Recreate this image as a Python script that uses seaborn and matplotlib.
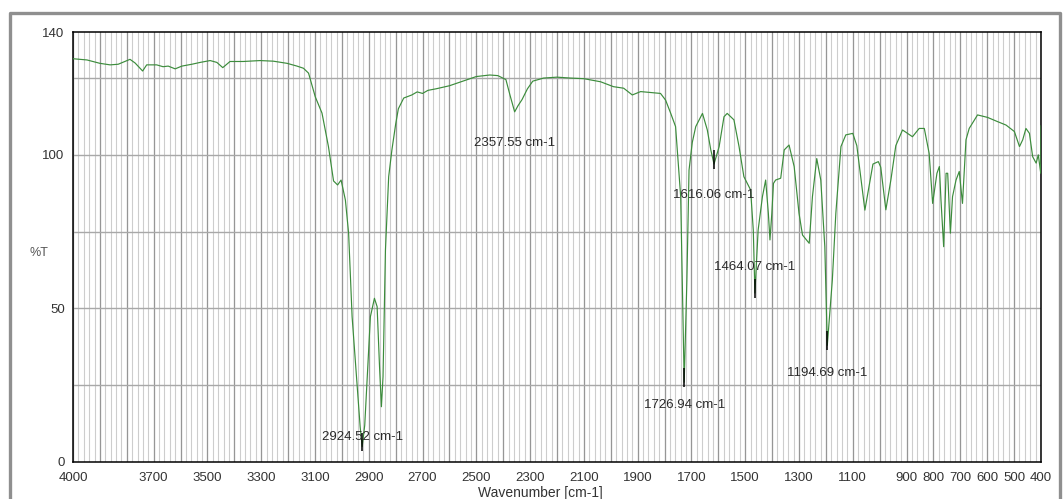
import matplotlib
matplotlib.use("Agg")
import matplotlib.pyplot as plt
from matplotlib.lines import Line2D
from matplotlib.ticker import MultipleLocator
import pandas as pd
import seaborn as sns

# spectrum (wavenumber in cm-1, transmittance in %)
wavenumber = [
    4000, 3948, 3900, 3862, 3832, 3788, 3769, 3741, 3726, 3689, 3665, 3646,
    3620, 3595, 3558, 3527, 3490, 3465, 3443, 3416, 3367, 3304, 3255, 3204,
    3167, 3143, 3124, 3099, 3074, 3050, 3031, 3016, 3003, 2987, 2975, 2962,
    2944, 2932, 2924.5, 2915, 2907, 2894, 2879, 2869, 2860, 2853, 2847, 2838,
    2826, 2814, 2800, 2790, 2770, 2740, 2720, 2700, 2680, 2650, 2600, 2550,
    2500, 2450, 2420, 2390, 2375, 2357.5, 2345, 2330, 2310, 2290, 2250, 2200,
    2150, 2100, 2038, 1990, 1952, 1920, 1889, 1815, 1796, 1777, 1759, 1740,
    1727, 1717, 1709, 1697, 1684, 1659, 1641, 1628, 1616, 1597, 1579, 1567,
    1542, 1523, 1505, 1480, 1470, 1464, 1452, 1436, 1424, 1414, 1408, 1401,
    1395, 1387, 1368, 1355, 1337, 1318, 1300, 1287, 1262, 1250, 1234, 1219,
    1204, 1194.7, 1176, 1163, 1144, 1126, 1100, 1085, 1055, 1025, 1005, 996,
    977, 958, 940, 915, 878, 853, 834, 816, 803, 787, 778, 772, 762, 753, 747,
    737, 729, 716, 704, 692, 679, 667, 636, 599, 561, 530, 499, 480, 468, 456,
    443, 431, 418, 410, 401, 400,
]
transmittance = [
    131.3, 130.9, 129.8, 129.3, 129.5, 131.1, 129.9, 127.3, 129.3, 129.3, 128.7, 128.9,
    128.0, 128.9, 129.5, 130.1, 130.7, 130.1, 128.4, 130.4, 130.4, 130.7, 130.5, 129.8,
    128.9, 128.2, 126.6, 118.9, 113.6, 102.7, 91.5, 90.2, 91.8, 85.3, 74.5, 47.3,
    25.7, 11.4, 5.0, 12.0, 25.7, 47.3, 53.3, 50.6, 31.0, 18.0, 27.8, 69.0,
    92.9, 101.6, 110.0, 115.0, 118.5, 119.5, 120.5, 120.0, 121.0, 121.5, 122.5, 124.0,
    125.5, 126.0, 125.8, 124.5, 119.5, 114.0, 116.0, 118.0, 121.5, 124.0, 125.0, 125.3,
    125.0, 124.8, 123.8, 122.2, 121.7, 119.5, 120.6, 120.0, 117.8, 113.5, 109.2, 86.4,
    26.0, 59.0, 95.0, 104.0, 109.2, 113.5, 108.1, 101.6, 97.0, 102.7, 112.4, 113.5,
    111.4, 102.7, 92.9, 88.6, 75.5, 55.0, 75.5, 86.4, 91.8, 81.0, 72.3, 81.0,
    90.7, 91.8, 92.4, 101.6, 103.2, 96.2, 81.0, 73.9, 71.2, 86.4, 98.8, 91.8,
    70.1, 38.0, 59.3, 81.0, 102.7, 106.5, 107.0, 103.0, 82.0, 97.0, 97.8, 96.0,
    82.1, 92.0, 103.0, 108.1, 105.9, 108.6, 108.6, 100.5, 84.2, 94.0, 96.2, 85.3, 70.1, 94.0, 94.0,
    74.5, 86.4, 91.8, 94.6, 84.2, 104.9, 108.6, 113.0, 112.2, 110.8, 109.7, 107.6, 102.7, 104.9, 108.6,
    107.0, 99.4, 97.3, 100.0, 94.0, 109.5,
]

# labelled peaks
peak_wn = [2924.52, 2357.55, 1726.94, 1616.06, 1464.07, 1194.69]
peak_t = [5.0, 114.0, 26.0, 97.0, 55.0, 38.0]
peak_labels = ["2924.52 cm-1", "2357.55 cm-1", "1726.94 cm-1",
               "1616.06 cm-1", "1464.07 cm-1", "1194.69 cm-1"]
label_t = [8.1, 103.9, 18.6, 87.0, 63.5, 29.0]
peak_marked = [True, False, True, True, True, True]

xtick_vals = [4000, 3700, 3500, 3300, 3100, 2900, 2700, 2500, 2300, 2100,
              1900, 1700, 1500, 1300, 1100, 900, 800, 700, 600, 500, 400]
ytick_vals = [0, 50, 100, 140]

df = pd.DataFrame({"wavenumber": wavenumber, "T": transmittance})

sns.set_style("white")
plt.rcParams["font.family"] = ["Liberation Sans", "DejaVu Sans"]

fig = plt.figure(figsize=(10.64, 4.99), dpi=100)
ax = fig.add_axes([73 / 1064, 1 - 462 / 499, (1041 - 73) / 1064, (462 - 32) / 499])

# grid
for g in range(400, 4001, 20):
    ax.axvline(g, color="#cdcdcd", lw=0.8, zorder=0)
for g in range(400, 4001, 100):
    ax.axvline(g, color="#969696", lw=0.9, zorder=0)
for g in [25, 50, 75, 100, 125]:
    ax.axhline(g, color="#a8a8a8", lw=1.0, zorder=0)

sns.lineplot(data=df, x="wavenumber", y="T", sort=False, estimator=None,
             color="#3c8c3c", lw=0.85, ax=ax, zorder=3)

for w, t, lab, lt, m in zip(peak_wn, peak_t, peak_labels, label_t, peak_marked):
    if m:
        ax.vlines(w, t - 1.5, t + 4.5, color="black", lw=1.1, zorder=4)
    ax.text(w, lt, lab, ha="center", va="center", fontsize=9.5,
            color="#2a2a2a", zorder=5)

ax.set_xlim(4000, 400)
ax.set_ylim(0, 140)
ax.set_xticks(xtick_vals)
ax.set_xticklabels([str(v) for v in xtick_vals])
ax.xaxis.set_minor_locator(MultipleLocator(20))
ax.set_yticks(ytick_vals)
ax.set_yticks([25, 75, 125], minor=True)
ax.tick_params(axis="x", which="major", direction="in", length=6, width=1,
               labelsize=9.5, labelcolor="#333333", pad=7)
ax.tick_params(axis="x", which="minor", direction="in", length=4, width=0.9)
ax.tick_params(axis="y", which="both", direction="out", length=4, width=1,
               labelsize=9.5, labelcolor="#333333", pad=2)
ax.set_xlabel("")
ax.set_ylabel("")
for s in ax.spines.values():
    s.set_color("black")
    s.set_linewidth(1.1)

fig.text(30 / 1064, 1 - 253 / 499, "%T", fontsize=9, color="#555555",
         ha="left", va="center")
fig.text(540 / 1064, 1 - 493 / 499, "Wavenumber [cm-1]", fontsize=10,
         color="#333333", ha="center", va="center")

# outer panel frame
fig.add_artist(Line2D([10 / 1064, 10 / 1064, 1060 / 1064, 1060 / 1064],
                      [0, 1 - 13 / 499, 1 - 13 / 499, 0],
                      transform=fig.transFigure, color="#8f8f8f", lw=2.4))

fig.savefig("out.png", dpi=100)
